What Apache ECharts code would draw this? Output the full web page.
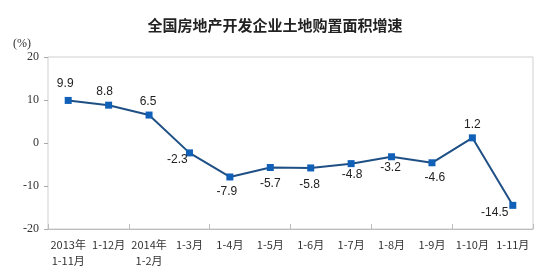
<!DOCTYPE html>
<html><head><meta charset="utf-8">
<script src="https://cdn.jsdelivr.net/npm/echarts@6/dist/echarts.min.js"></script>
<style>html,body{margin:0;padding:0;background:#fff}#c{width:550px;height:272px}</style>
</head><body><div id="c"></div>
<script>
const titleText = '全国房地产开发企业土地购置面积增速';
const unitLabel = '(%)';
const categories = ['2013年\n1-11月','1-12月','2014年\n1-2月','1-3月','1-4月','1-5月','1-6月','1-7月','1-8月','1-9月','1-10月','1-11月'];
const values = [9.9, 8.8, 6.5, -2.3, -7.9, -5.7, -5.8, -4.8, -3.2, -4.6, 1.2, -14.5];
const yTicks = [-20, -10, 0, 10, 20];

// label placement offsets (px) relative to each point
const labelOffsets = [[-3,-17],[-4,-13],[-1,-13],[-12,7],[-3,15],[0,16],[-1,17],[1,11],[-1,11],[3,15],[0,-13],[-18,7]];

const chart = echarts.init(document.getElementById('c'), null, {renderer:'canvas'});
chart.setOption({
  animation:false,
  backgroundColor:'#fff',
  title:{text:titleText,left:'center',top:13,textStyle:{fontFamily:'Noto Sans CJK SC',fontSize:15,fontWeight:'bold',color:'#222'}},
  graphic:[{type:'text',left:13,top:38,style:{text:unitLabel,font:'12px "Liberation Serif"',fill:'#333'}}],
  grid:{left:48,right:17,top:57,bottom:43,show:true,borderColor:'#cfcfcf',borderWidth:1},
  xAxis:[{
    type:'category',data:categories,position:'bottom',boundaryGap:true,
    axisLine:{show:false},axisTick:{show:false},
    axisLabel:{interval:0,margin:8,lineHeight:16,fontFamily:'Noto Sans CJK SC',fontSize:11,color:'#333',align:'center'}
  },{
    type:'category',data:categories,position:'bottom',boundaryGap:true,
    axisLine:{show:true,onZero:true,lineStyle:{color:'#bdbdbd',width:1}},
    axisTick:{show:true,inside:true,length:5,lineStyle:{color:'#bdbdbd'}},
    axisLabel:{show:false}
  }],
  yAxis:{type:'value',min:-20,max:20,interval:10,
    axisLine:{show:false},axisTick:{show:true,length:4,lineStyle:{color:'#aaa'}},
    splitLine:{show:false},
    axisLabel:{margin:9,fontFamily:'Liberation Serif',fontSize:12,color:'#333',
      formatter:v=>yTicks.includes(v)?String(v):''}
  },
  series:[{
    type:'line',xAxisIndex:0,
    data:values.map((v,i)=>({value:v,label:{show:true,position:'inside',offset:labelOffsets[i]}})),
    symbol:'rect',symbolSize:7,
    lineStyle:{color:'#1f5085',width:2},
    itemStyle:{color:'#1060b8'},
    label:{show:true,fontFamily:'Liberation Sans',fontSize:12,color:'#222',formatter:p=>p.value.toFixed(1)}
  }]
});
</script></body></html>
